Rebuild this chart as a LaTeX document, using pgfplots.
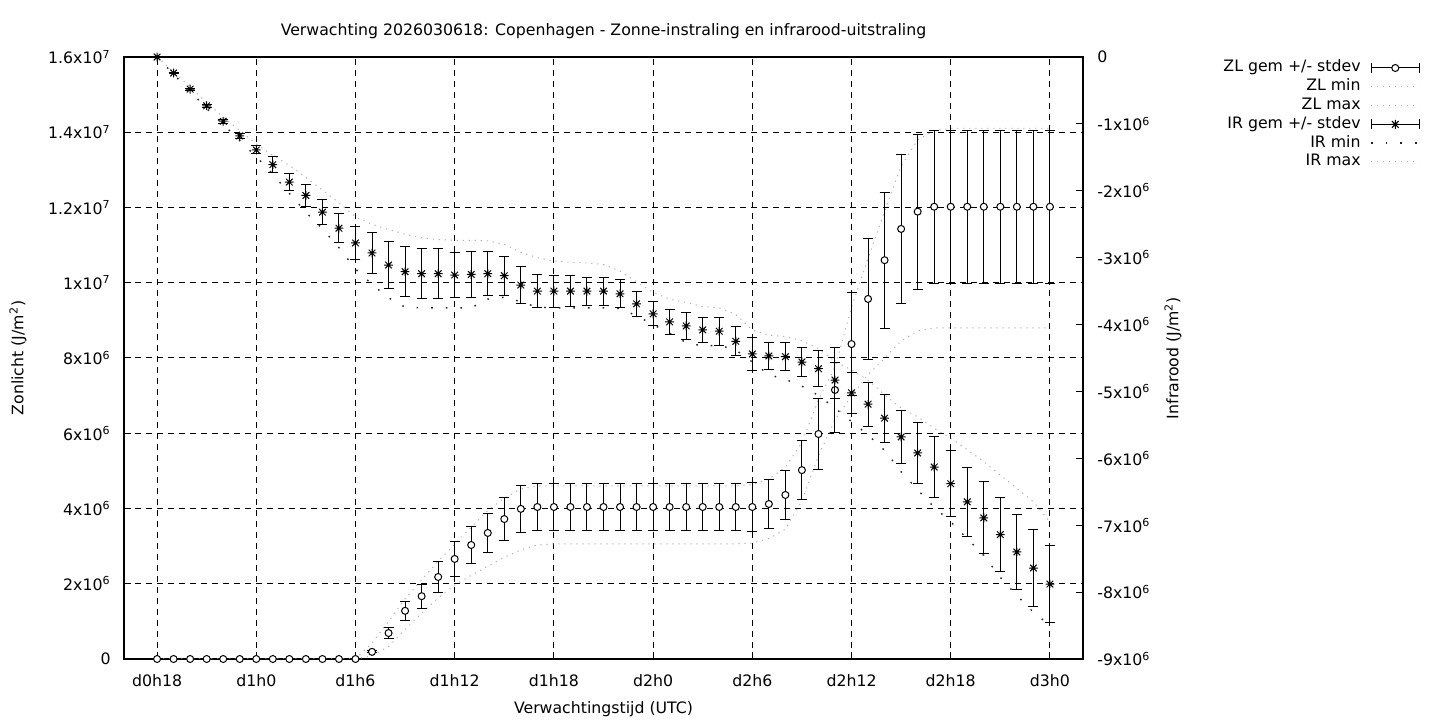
\documentclass[border=0pt]{standalone}
\usepackage{fontspec}
\setmainfont{DejaVu Sans}
\usepackage{pgfplots}
\usepackage{pgfplotstable}
\pgfplotsset{compat=1.18}

% gnuplot style "*" point: + and x on top of each other
\pgfdeclareplotmark{gpstar}{%
  \pgfpathmoveto{\pgfqpoint{-\pgfplotmarksize}{0pt}}\pgfpathlineto{\pgfqpoint{\pgfplotmarksize}{0pt}}%
  \pgfpathmoveto{\pgfqpoint{0pt}{-\pgfplotmarksize}}\pgfpathlineto{\pgfqpoint{0pt}{\pgfplotmarksize}}%
  \pgfpathmoveto{\pgfqpoint{-0.75\pgfplotmarksize}{-0.75\pgfplotmarksize}}\pgfpathlineto{\pgfqpoint{0.75\pgfplotmarksize}{0.75\pgfplotmarksize}}%
  \pgfpathmoveto{\pgfqpoint{-0.75\pgfplotmarksize}{0.75\pgfplotmarksize}}\pgfpathlineto{\pgfqpoint{0.75\pgfplotmarksize}{-0.75\pgfplotmarksize}}%
  \pgfusepathqstroke}

\tikzset{
  fineDot/.style={gray!60, line width=0.5bp, dash pattern=on 0.6bp off 2.4bp},
  sparseDot/.style={black!85, line width=0.7bp, dash pattern=on 0.8bp off 6.5bp},
}

% hours since d0h0, values in 10^6 J/m^2
% ZL: mean, stdev, min, max
\pgfplotstableread{
h  zm    zs    zn    zx
18 0     0     0     0
19 0     0     0     0
20 0     0     0     0
21 0     0     0     0
22 0     0     0     0
23 0     0     0     0
24 0     0     0     0
25 0     0     0     0
26 0     0     0     0
27 0     0     0     0
28 0     0     0     0
29 0     0     0     0
30 0     0     0     0
31 0.19  0.03  0.08  0.42
32 0.69  0.15  0.33  1.00
33 1.28  0.25  0.78  1.60
34 1.67  0.32  1.22  2.10
35 2.18  0.40  1.62  2.60
36 2.66  0.46  1.97  3.05
37 3.03  0.50  2.22  3.50
38 3.35  0.53  2.47  3.95
39 3.72  0.57  2.70  4.27
40 3.99  0.63  2.90  4.52
41 4.04  0.62  3.03  4.60
42 4.04  0.62  3.06  4.60
43 4.04  0.62  3.06  4.60
44 4.04  0.62  3.06  4.60
45 4.04  0.62  3.06  4.60
46 4.04  0.62  3.06  4.60
47 4.04  0.62  3.06  4.60
48 4.04  0.62  3.06  4.60
49 4.04  0.62  3.06  4.60
50 4.04  0.62  3.06  4.60
51 4.04  0.62  3.06  4.60
52 4.04  0.62  3.06  4.60
53 4.04  0.62  3.06  4.60
54 4.04  0.64  3.08  4.64
55 4.12  0.64  3.20  4.78
56 4.36  0.66  3.45  5.10
57 5.02  0.78  4.20  5.75
58 5.98  0.95  5.40  6.90
59 7.15  1.14  6.35  7.75
60 8.37  1.36  7.00  9.35
61 9.57  1.60  7.55  10.65
62 10.60 1.81  8.00  11.90
63 11.43 1.97  8.45  13.10
64 11.89 2.06  8.72  13.80
65 12.02 2.03  8.80  14.05
66 12.02 2.03  8.80  14.10
67 12.02 2.03  8.80  14.10
68 12.02 2.03  8.80  14.10
69 12.02 2.03  8.80  14.10
70 12.02 2.03  8.80  14.10
71 12.02 2.03  8.80  14.10
72 12.02 2.03  8.80  14.10
}\zldata

% IR: mean, stdev, min, max
\pgfplotstableread{
h  im     is     in     ix
18 0      0.01   0      0
19 -0.24  0.01   -0.26  -0.22
20 -0.48  0.015  -0.51  -0.45
21 -0.73  0.02   -0.77  -0.68
22 -0.96  0.03   -1.01  -0.90
23 -1.18  0.04   -1.25  -1.10
24 -1.39  0.06   -1.49  -1.30
25 -1.61  0.12   -1.75  -1.47
26 -1.87  0.13   -2.04  -1.62
27 -2.07  0.17   -2.32  -1.80
28 -2.32  0.19   -2.57  -1.99
29 -2.56  0.22   -2.85  -2.18
30 -2.78  0.24   -3.17  -2.39
31 -2.93  0.30   -3.40  -2.50
32 -3.11  0.35   -3.60  -2.58
33 -3.21  0.37   -3.74  -2.65
34 -3.24  0.37   -3.75  -2.70
35 -3.24  0.37   -3.75  -2.73
36 -3.26  0.34   -3.75  -2.74
37 -3.25  0.34   -3.75  -2.74
38 -3.24  0.33   -3.62  -2.75
39 -3.27  0.29   -3.59  -2.80
40 -3.41  0.28   -3.66  -2.92
41 -3.50  0.25   -3.74  -3.00
42 -3.50  0.24   -3.75  -3.05
43 -3.50  0.23   -3.75  -3.07
44 -3.50  0.21   -3.75  -3.08
45 -3.50  0.21   -3.75  -3.10
46 -3.54  0.21   -3.76  -3.20
47 -3.69  0.19   -3.87  -3.36
48 -3.84  0.18   -4.00  -3.52
49 -3.96  0.19   -4.13  -3.62
50 -4.02  0.20   -4.27  -3.67
51 -4.08  0.19   -4.32  -3.73
52 -4.10  0.21   -4.31  -3.75
53 -4.25  0.22   -4.38  -3.85
54 -4.44  0.25   -4.56  -4.08
55 -4.47  0.20   -4.75  -4.16
56 -4.48  0.21   -4.82  -4.18
57 -4.56  0.21   -4.92  -4.24
58 -4.66  0.27   -5.06  -4.36
59 -4.83  0.27   -5.25  -4.55
60 -5.02  0.31   -5.45  -4.68
61 -5.19  0.33   -5.65  -4.83
62 -5.40  0.36   -5.88  -5.05
63 -5.68  0.40   -6.20  -5.25
64 -5.92  0.45   -6.47  -5.38
65 -6.13  0.46   -6.73  -5.55
66 -6.38  0.49   -6.95  -5.70
67 -6.65  0.52   -7.20  -5.87
68 -6.89  0.54   -7.45  -6.05
69 -7.14  0.55   -7.78  -6.25
70 -7.40  0.56   -8.05  -6.45
71 -7.64  0.58   -8.30  -6.65
72 -7.88  0.58   -8.50  -6.95
}\irdata

\pgfplotsset{
  gpbase/.style={
    at={(62bp,30.5bp)}, anchor=south west,
    scale only axis, width=479.5bp, height=301bp,
    xmin=16, xmax=74,
    font=\fontsize{7.9}{9.5}\selectfont,
    axis line style={line width=0.6bp},
    tick style={line width=0.5bp, black},
    tick align=inside,
    major tick length=3.5bp,
    every axis title shift=0pt,
  },
  errstyle/.style={
    error bars/y dir=both, error bars/y explicit,
    error bars/error bar style={line width=0.5bp, black},
    error bars/error mark options={rotate=90, mark size=2.5bp, line width=0.5bp, black},
  },
}

\begin{document}
\begin{tikzpicture}
\useasboundingbox (0bp,0bp) rectangle (720bp,360bp);

% left axis: Zonlicht
\begin{axis}[gpbase,
  ymin=0, ymax=16,
  xtick={18,24,...,72},
  xticklabels={d0h18,d1h0,d1h6,d1h12,d1h18,d2h0,d2h6,d2h12,d2h18,d3h0},
  xtick pos=bottom,
  xticklabel style={anchor=north, inner sep=0pt, yshift=-7.5bp},
  ytick={0,2,...,16},
  yticklabels={0,2x10\textsuperscript{6},4x10\textsuperscript{6},6x10\textsuperscript{6},8x10\textsuperscript{6},1x10\textsuperscript{7},1.2x10\textsuperscript{7},1.4x10\textsuperscript{7},1.6x10\textsuperscript{7}},
  ytick pos=left,
  yticklabel style={anchor=east, inner sep=0pt, xshift=-6.5bp},
  grid=major,
  major grid style={black, line width=0.5bp, dash pattern=on 3bp off 2.5bp},
  title={Verwachting 2026030618: Copenhagen - Zonne-instraling en infrarood-uitstraling},
  title style={at={(axis description cs:0.5,1.0435)}, anchor=center, inner sep=0pt},
  xlabel={Verwachtingstijd (UTC)},
  xlabel style={at={(axis description cs:0.5,-0.083)}, anchor=center, inner sep=0pt},
  ylabel={Zonlicht (J/m\textsuperscript{2})},
  ylabel style={at={(axis description cs:-0.1105,0.5)}, anchor=center, inner sep=0pt},
]
\addplot[fineDot] table[x=h, y=zn] {\zldata};
\addplot[fineDot] table[x=h, y=zx] {\zldata};
\addplot[only marks, mark=*, mark size=1.75bp,
  mark options={fill=white, draw=black, line width=0.5bp}, errstyle]
  table[x=h, y=zm, y error=zs] {\zldata};
\end{axis}

% right axis: Infrarood
\begin{axis}[gpbase,
  ymin=-9, ymax=0,
  hide x axis,
  ytick={-9,-8,...,0},
  yticklabels={-9x10\textsuperscript{6},-8x10\textsuperscript{6},-7x10\textsuperscript{6},-6x10\textsuperscript{6},-5x10\textsuperscript{6},-4x10\textsuperscript{6},-3x10\textsuperscript{6},-2x10\textsuperscript{6},-1x10\textsuperscript{6},0},
  ytick pos=right, yticklabel pos=right,
  yticklabel style={anchor=west, inner sep=0pt, xshift=7bp},
  ylabel={Infrarood (J/m\textsuperscript{2})},
  ylabel style={at={(axis description cs:1.0938,0.5)}, anchor=center, inner sep=0pt},
  legend style={draw=none, fill=none, at={(axis description cs:1.3514,0.9967)}, anchor=north east,
    inner sep=0pt, outer sep=0pt, row sep=0.4bp, column sep=5bp,
    nodes={inner sep=0pt, text height=6.5bp, text depth=2.5bp},
    legend cell align=right},
  legend plot pos=right,
]
\addplot[sparseDot, forget plot] table[x=h, y=in] {\irdata};
\addplot[fineDot, forget plot] table[x=h, y=ix] {\irdata};
\addplot[forget plot, only marks, mark=gpstar, mark size=2.2bp,
  mark options={draw=black, line width=0.5bp}, errstyle]
  table[x=h, y=im, y error=is] {\irdata};

\addlegendimage{legend image code/.code={
  \draw[line width=0.5bp] (0bp,0bp)--(24bp,0bp) (0bp,-2.5bp)--(0bp,2.5bp) (24bp,-2.5bp)--(24bp,2.5bp);
  \draw[line width=0.5bp, fill=white] (12bp,0bp) circle[radius=1.75bp];}}
\addlegendentry{ZL gem +/- stdev}
\addlegendimage{legend image code/.code={\draw[fineDot] (0bp,0bp)--(24bp,0bp);}}
\addlegendentry{ZL min}
\addlegendimage{legend image code/.code={\draw[fineDot] (0bp,0bp)--(24bp,0bp);}}
\addlegendentry{ZL max}
\addlegendimage{legend image code/.code={
  \draw[line width=0.5bp] (0bp,0bp)--(24bp,0bp) (0bp,-2.5bp)--(0bp,2.5bp) (24bp,-2.5bp)--(24bp,2.5bp);
  \draw[line width=0.5bp] (9.8bp,0bp)--(14.2bp,0bp) (12bp,-2.2bp)--(12bp,2.2bp)
    (10.35bp,-1.65bp)--(13.65bp,1.65bp) (10.35bp,1.65bp)--(13.65bp,-1.65bp);}}
\addlegendentry{IR gem +/- stdev}
\addlegendimage{legend image code/.code={\draw[sparseDot] (0bp,0bp)--(24bp,0bp);}}
\addlegendentry{IR min}
\addlegendimage{legend image code/.code={\draw[fineDot] (0bp,0bp)--(24bp,0bp);}}
\addlegendentry{IR max}
\end{axis}
\end{tikzpicture}
\end{document}
